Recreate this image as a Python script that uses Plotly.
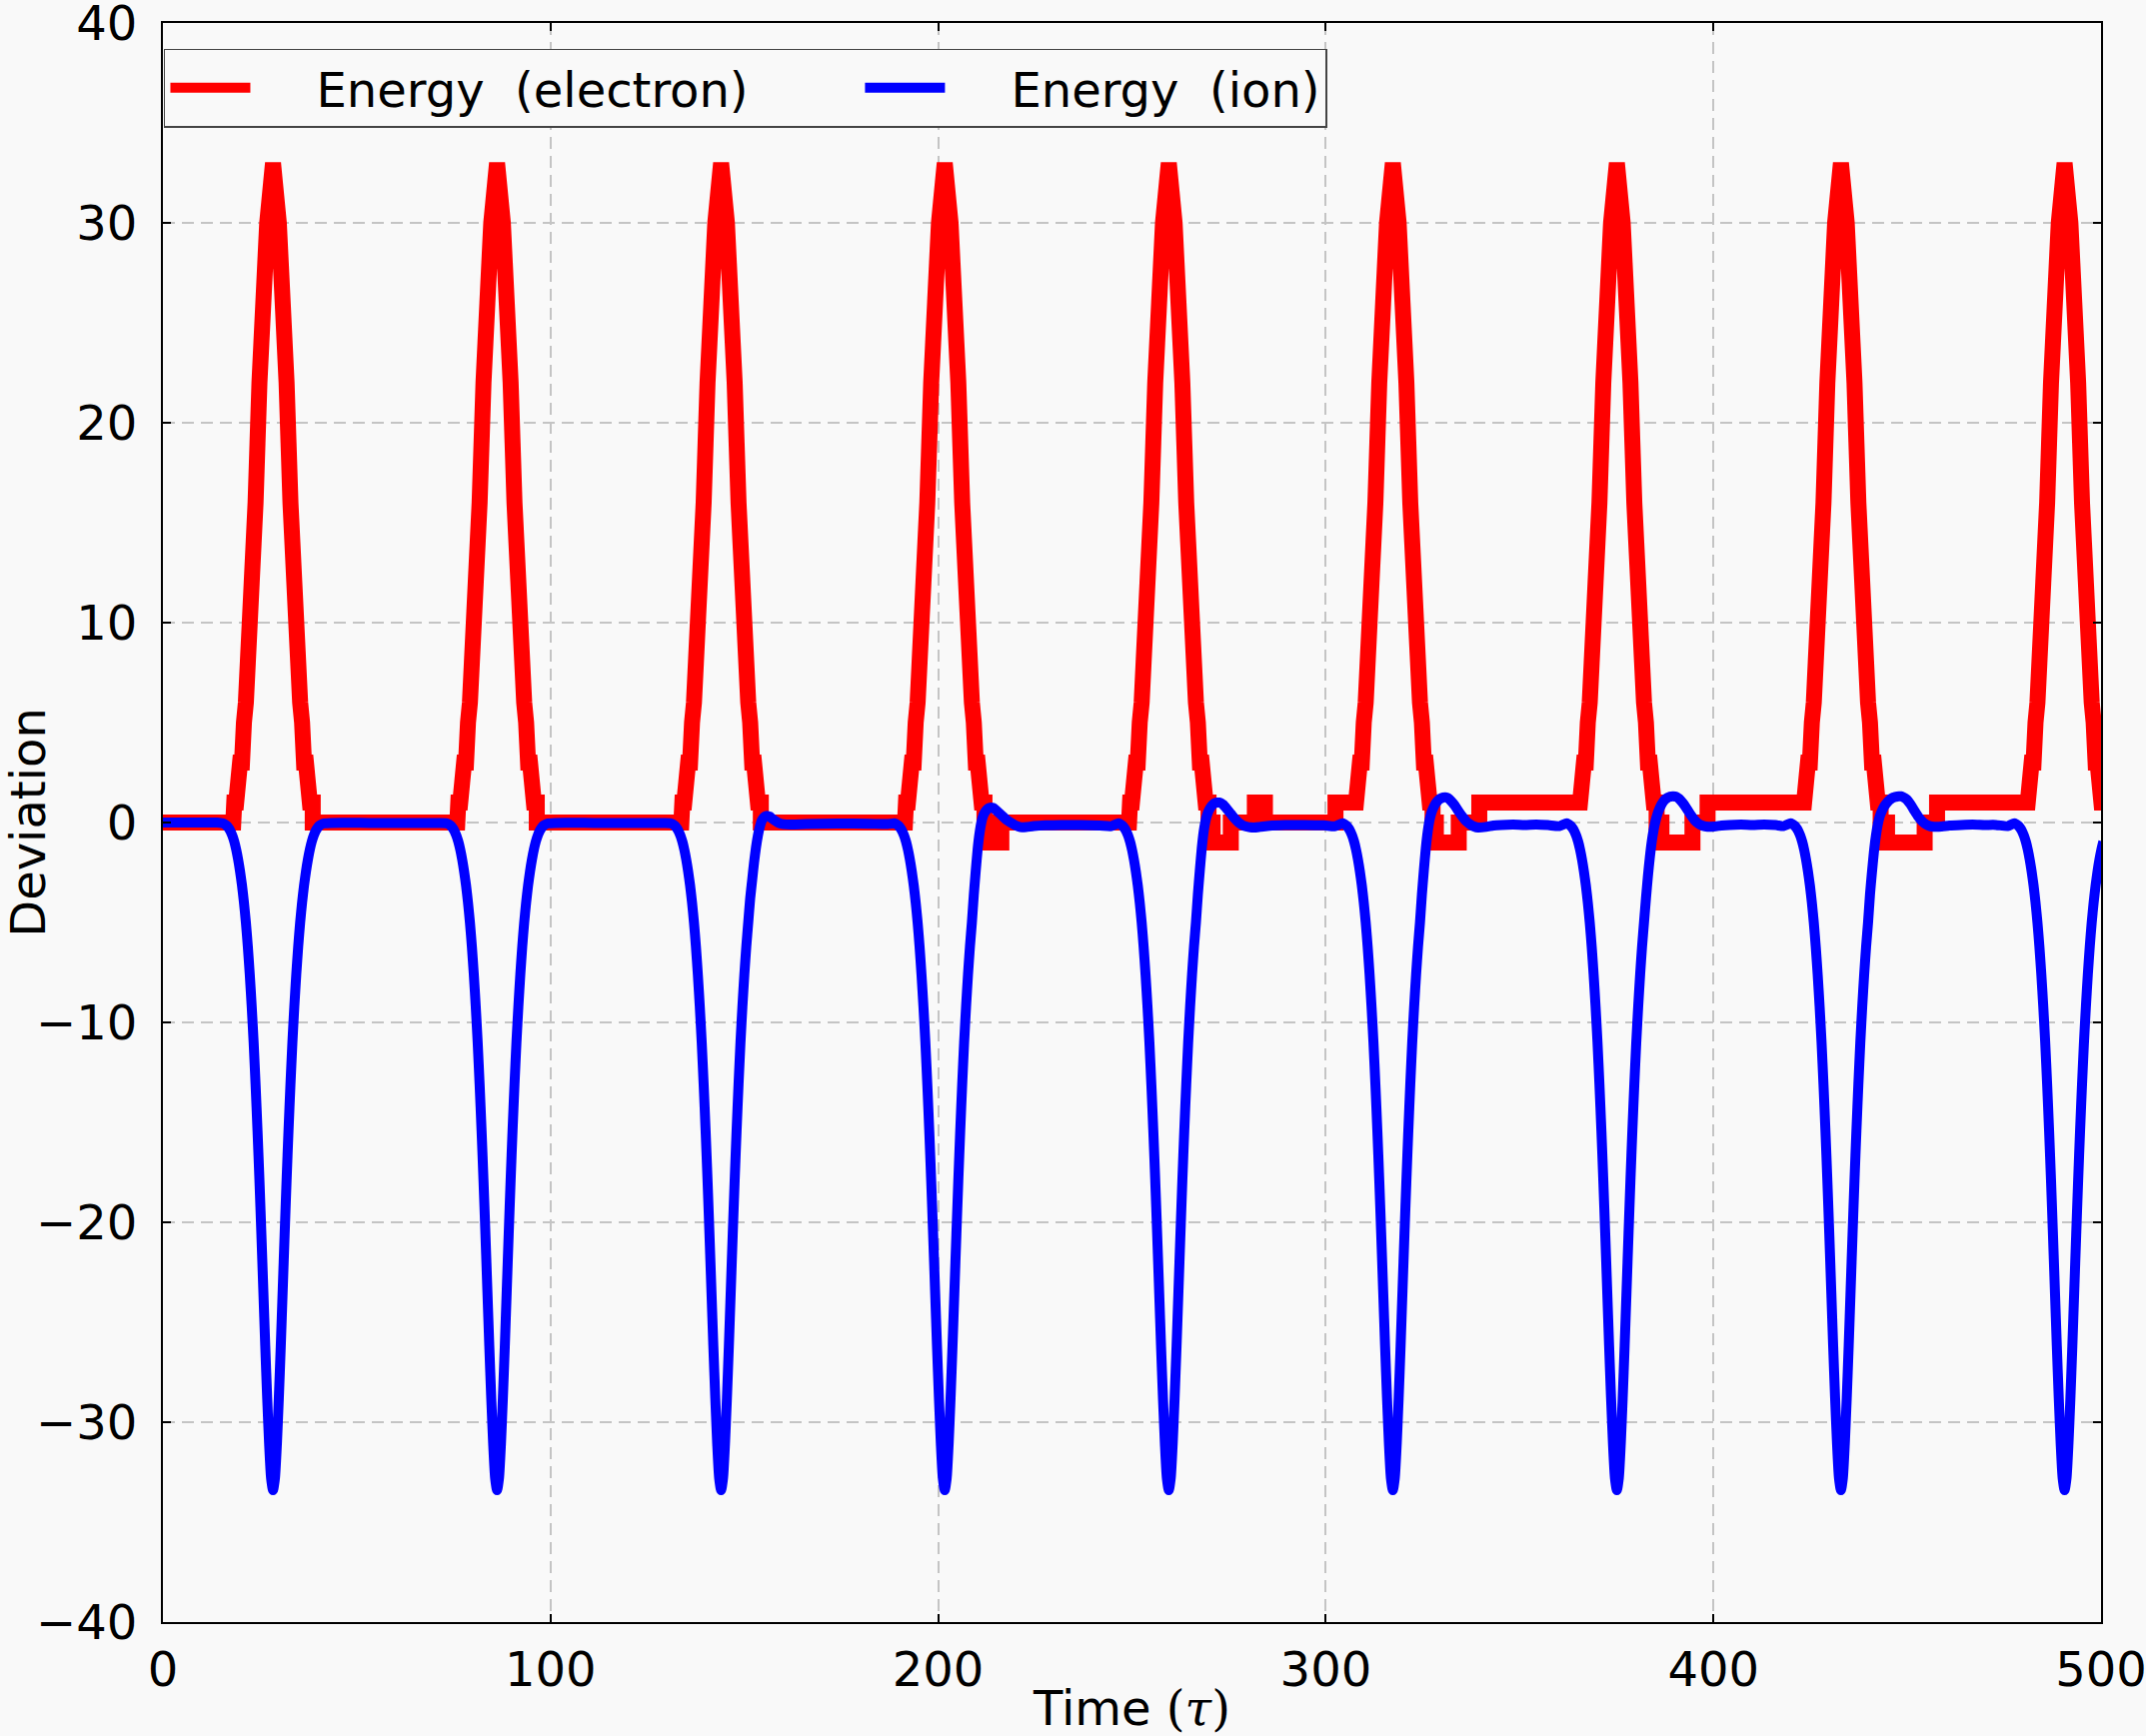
import plotly.graph_objects as go

# ---------------- data ----------------
peak_times = [28.4, 86.2, 144.0, 201.7, 259.5, 317.3, 375.1, 432.9, 490.6]

# electron energy deviation around each peak (integer valued)
red_pulse_offsets = [-10.0, -9.5, -9.0, -8.5, -8.0, -7.5, -7.0, -6.5, -6.0, -5.5, -5.0,
                     -4.5, -4.0, -3.5, -3.0, -2.5, -2.0, -1.5, -1.0, -0.5, 0.0,
                     0.5, 1.0, 1.5, 2.0, 2.5, 3.0, 3.5, 4.0, 4.5, 5.0,
                     5.5, 6.0, 6.5, 7.0, 7.5, 8.0, 8.5, 9.0, 9.5, 10.0]
red_pulse_values = [1, 1, 2, 3, 3, 5, 6, 8, 10, 12, 14,
                    16, 19, 22, 24, 26, 28, 30, 31, 32, 33,
                    32, 31, 30, 28, 26, 24, 22, 19, 16, 14,
                    12, 10, 8, 6, 5, 3, 3, 2, 1, 1]

# electron level changes between peaks: [time, new value]
red_gap_steps = [
    [[38.65, 0]],
    [[96.45, 0]],
    [[154.25, 0]],
    [[211.95, 0], [212.5, -1], [216.3, 0]],
    [[269.75, 0], [270.8, -1], [275.5, 0], [281.7, 1], [284.3, 0], [302.5, 1]],
    [[327.55, 0], [328.4, -1], [334.3, 0], [339.6, 1]],
    [[385.35, 0], [386.6, -1], [394.6, 0], [398.5, 1]],
    [[443.15, 0], [444.8, -1], [454.5, 0], [457.7, 1]],
    [],
]

# ion energy deviation around each trough
blue_pulse_offsets = [-13.0, -12.5, -12.0, -11.5, -11.0, -10.5, -10.0, -9.5, -9.0, -8.5,
                      -8.0, -7.5, -7.0, -6.5, -6.0, -5.5, -5.0, -4.5, -4.0, -3.5,
                      -3.0, -2.5, -2.0, -1.5, -1.0, -0.5, 0.0,
                      0.5, 1.0, 1.5, 2.0, 2.5, 3.0, 3.5, 4.0, 4.5, 5.0, 5.5, 6.0, 6.5, 7.0]
blue_pulse_values = [-0.04, -0.08, -0.15, -0.26, -0.42, -0.65, -0.95, -1.35, -1.85, -2.45,
                     -3.15, -4.0, -5.0, -6.2, -7.6, -9.2, -11.0, -13.1, -15.4, -17.9,
                     -20.6, -23.4, -26.2, -28.8, -31.1, -32.8, -33.4,
                     -32.8, -31.1, -28.8, -26.2, -23.4, -20.6, -17.9, -15.4, -13.1, -11.0,
                     -9.2, -7.6, -6.2, -5.0]

blue_start_t = [0.0, 5.0, 10.0, 14.0]
blue_start_v = [0.0, 0.0, 0.0, 0.0]

# ion recovery after each trough: [offset from trough, value]
blue_gap_knots = [
    [[7.5, -4.0], [8, -3.15], [8.5, -2.45], [9, -1.85], [9.5, -1.35], [10, -0.95], [10.5, -0.65],
     [11, -0.42], [11.5, -0.26], [12, -0.15], [13, -0.05], [15, -0.02], [25, -0.02], [35, -0.02], [43, -0.03]],
    [[7.5, -4.0], [8, -3.15], [8.5, -2.45], [9, -1.85], [9.5, -1.35], [10, -0.95], [10.5, -0.65],
     [11, -0.42], [11.5, -0.26], [12, -0.15], [13, -0.05], [15, -0.02], [25, -0.02], [35, -0.02], [43, -0.03]],
    [[7.5, -3.8], [8, -2.9], [8.5, -2.0], [9, -1.25], [9.5, -0.65], [10, -0.2], [10.5, 0.1], [11, 0.25],
     [11.5, 0.32], [12, 0.33], [12.5, 0.3], [13, 0.22], [14, 0.08], [15, -0.03], [16, -0.08], [18, -0.1],
     [22, -0.08], [30, -0.05], [38, -0.06], [43, -0.08]],
    [[7.5, -3.6], [8, -2.4], [8.5, -1.3], [9, -0.5], [9.5, 0.05], [10, 0.38], [10.5, 0.56], [11, 0.67],
     [11.5, 0.73], [12, 0.75], [12.5, 0.73], [13, 0.66], [14, 0.48], [15, 0.3], [16, 0.12], [17, 0.0],
     [18, -0.12], [19, -0.2], [20, -0.24], [21, -0.23], [23, -0.18], [26, -0.14], [30, -0.12],
     [35, -0.13], [40, -0.15], [43, -0.18]],
    [[7.5, -3.6], [8, -2.4], [8.5, -1.3], [9, -0.45], [9.5, 0.1], [10, 0.45], [10.5, 0.67], [11, 0.82],
     [11.5, 0.92], [12, 0.98], [12.5, 1.0], [13, 1.0], [13.5, 0.97], [14, 0.9], [15, 0.68], [16, 0.44],
     [17, 0.2], [18, 0.0], [19, -0.13], [20, -0.2], [21, -0.24], [22, -0.25], [23.5, -0.22], [26, -0.16],
     [30, -0.13], [35, -0.12], [40, -0.14], [43, -0.18]],
    [[7.5, -3.6], [8, -2.4], [8.5, -1.3], [9, -0.45], [9.5, 0.15], [10, 0.52], [10.5, 0.76], [11, 0.94],
     [11.5, 1.07], [12, 1.16], [12.5, 1.22], [13, 1.25], [13.5, 1.26], [14, 1.24], [14.5, 1.18], [15, 1.08],
     [16, 0.85], [17, 0.55], [18, 0.28], [19, 0.05], [20, -0.1], [21, -0.2], [22, -0.25], [24, -0.22],
     [26, -0.15], [28, -0.12], [31, -0.1], [34, -0.12], [37, -0.1], [40, -0.13], [43, -0.18]],
    [[7.5, -3.8], [8, -2.7], [8.5, -1.75], [9, -0.95], [9.5, -0.35], [10, 0.1], [10.5, 0.45], [11, 0.7],
     [11.5, 0.9], [12, 1.05], [12.5, 1.16], [13, 1.23], [13.5, 1.28], [14, 1.3], [14.5, 1.31], [15, 1.3],
     [15.5, 1.27], [16, 1.2], [17, 0.98], [18, 0.7], [19, 0.4], [20, 0.13], [21, -0.05], [22, -0.15],
     [23, -0.2], [25, -0.2], [27, -0.15], [29, -0.12], [32, -0.1], [35, -0.12], [38, -0.1], [41, -0.13],
     [43, -0.18]],
    [[7.5, -3.6], [8, -2.5], [8.5, -1.5], [9, -0.7], [9.5, -0.1], [10, 0.3], [10.5, 0.55], [11, 0.75],
     [11.5, 0.9], [12, 1.02], [12.5, 1.12], [13, 1.2], [13.5, 1.25], [14, 1.28], [14.5, 1.3], [15, 1.31],
     [15.5, 1.31], [16, 1.28], [17, 1.15], [18, 0.9], [19, 0.58], [20, 0.28], [21, 0.05], [22, -0.1],
     [23, -0.18], [24, -0.21], [26, -0.2], [28, -0.15], [31, -0.12], [34, -0.1], [37, -0.12], [40, -0.12],
     [43, -0.18]],
    [[7.5, -4.0], [8, -3.15], [8.5, -2.45], [9, -1.85], [9.5, -1.35], [10, -0.95]],
]

x_ticks = [0, 100, 200, 300, 400, 500]
y_ticks = [-40, -30, -20, -10, 0, 10, 20, 30, 40]
y_tick_labels = ["\u221240", "\u221230", "\u221220", "\u221210", "0", "10", "20", "30", "40"]

series_names = ["Energy\u00a0 (electron)", "Energy\u00a0 (ion)"]

# ---------------- assemble series ----------------
red_x, red_y = [0.0], [0]
cur = 0
for k, p in enumerate(peak_times):
    red_x.append(p + red_pulse_offsets[0] - 0.25)
    red_y.append(cur)
    for o, v in zip(red_pulse_offsets, red_pulse_values):
        red_x.append(p + o)
        red_y.append(v)
    cur = red_pulse_values[-1]
    for t, v in red_gap_steps[k]:
        red_x += [t, t]
        red_y += [cur, v]
        cur = v

blue_x = list(blue_start_t)
blue_y = list(blue_start_v)
for k, p in enumerate(peak_times):
    for o, v in zip(blue_pulse_offsets, blue_pulse_values):
        blue_x.append(p + o)
        blue_y.append(v)
    for o, v in blue_gap_knots[k]:
        blue_x.append(p + o)
        blue_y.append(v)

FONT = "DejaVu Sans"
BG = "#f9f9f9"
PAD = "\u00a0" * 4

fig = go.Figure()
fig.add_trace(go.Scatter(x=red_x, y=red_y, mode="lines",
                         line=dict(color="#ff0000", width=16, simplify=False),
                         name=PAD + series_names[0] + "\u00a0" * 7))
fig.add_trace(go.Scatter(x=blue_x, y=blue_y, mode="lines",
                         line=dict(color="#0000ff", width=10, shape="spline", smoothing=0.6),
                         name=PAD + series_names[1]))

axis_common = dict(
    showline=True, linecolor="black", linewidth=2, mirror="ticks",
    ticks="inside", ticklen=8, tickwidth=1.5, tickcolor="black",
    showgrid=True, gridcolor="#c4c4c4", gridwidth=1.5, griddash="12px,7px",
    zeroline=False, tickfont=dict(family=FONT, size=48, color="black"),
    automargin=False, ticklabeloverflow="allow",
)

fig.update_layout(
    width=2147, height=1737,
    margin=dict(l=163, r=45, t=23, b=114),
    paper_bgcolor=BG, plot_bgcolor=BG,
    font=dict(family=FONT, size=48, color="black"),
    xaxis=dict(range=[0, 500], tickvals=x_ticks, ticktext=[str(v) for v in x_ticks],
               ticklabelstandoff=4,
               title=dict(text="Time <span style='font-family:DejaVu Serif'>(<i>\u03c4</i>)</span>",
                          font=dict(family=FONT, size=48), standoff=6),
               **axis_common),
    yaxis=dict(range=[-40, 40], tickvals=y_ticks, ticktext=y_tick_labels,
               ticklabelstandoff=14,
               title=dict(text="Deviation", font=dict(family=FONT, size=48), standoff=8),
               **axis_common),
    legend=dict(orientation="h", x=0.0005, y=0.984, xanchor="left", yanchor="top",
                bgcolor=BG, bordercolor="#444444", borderwidth=1.5,
                font=dict(family=FONT, size=48, color="black"),
                itemwidth=80, traceorder="normal"),
    showlegend=True,
)

fig.write_html("out.html")
